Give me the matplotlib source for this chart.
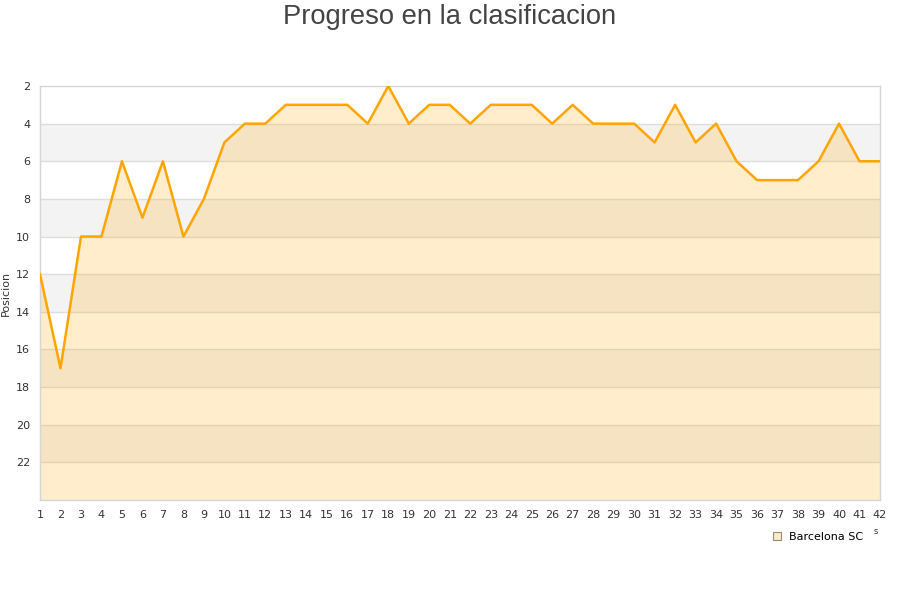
import matplotlib
matplotlib.use("Agg")
import matplotlib.pyplot as plt
from matplotlib.lines import Line2D

jornadas = list(range(1, 43))
posicion = [12, 17, 10, 10, 6, 9, 6, 10, 8, 5, 4, 4, 3, 3, 3, 3, 4, 2, 4, 3,
            3, 4, 3, 3, 3, 4, 3, 4, 4, 4, 5, 3, 5, 4, 6, 7, 7, 7, 6, 4, 6, 6]
y_ticks = list(range(2, 24, 2))
equipo = "Barcelona SC"

fig = plt.figure(figsize=(9, 6), dpi=100)
ax = fig.add_axes([40 / 900, 100 / 600, 840 / 900, 414 / 600])

# bandas alternas de fondo
for i, y0 in enumerate(range(2, 24, 2)):
    color = "white" if i % 2 == 0 else "#f3f3f3"
    ax.axhspan(y0, y0 + 2, color=color, zorder=0, lw=0)
for y in y_ticks[1:]:
    ax.axhline(y, color="#dedede", lw=1, zorder=1)

ax.fill_between(jornadas, posicion, 24, color="#ffa500", alpha=0.2, lw=0, zorder=2)
ax.plot(jornadas, posicion, color="#ffa500", lw=1.8, zorder=3)

ax.set_xlim(1, 42)
ax.set_ylim(24, 2)
ax.set_xticks(jornadas)
ax.set_yticks(y_ticks)
ax.tick_params(axis="both", length=0, labelsize=8, colors="#333333", pad=7)
ax.tick_params(axis="y", pad=7)
for s in ax.spines.values():
    s.set_color("#d6d6d6")
    s.set_linewidth(1)

ax.set_ylabel("Posicion", fontsize=8, color="#333333", labelpad=2)
ax.yaxis.set_label_coords(-0.035, 0.5)

fig.text(0.5, 0.971, "Progreso en la clasificacion", ha="center", va="center",
         fontsize=19.7, color="#444444", family="Liberation Sans")

handle = Line2D([], [], marker="s", ls="", markersize=6,
                markerfacecolor="#fdeccb", markeredgecolor="#9a8a70", markeredgewidth=0.8)
fig.legend([handle], [equipo], loc="center", bbox_to_anchor=(0.908, 0.105),
           frameon=False, fontsize=8, handletextpad=0.6, handlelength=1)
fig.text(876 / 900, 1 - 531 / 600, "s", fontsize=6, color="#333333", ha="center", va="center")

fig.savefig("out.png", dpi=100)
